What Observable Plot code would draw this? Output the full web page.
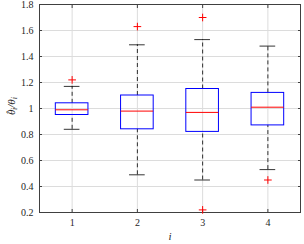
<!DOCTYPE html>
<html><head><meta charset="utf-8">
<script src="https://cdn.jsdelivr.net/npm/d3@7"></script>
<script src="https://cdn.jsdelivr.net/npm/@observablehq/plot@0.6"></script>
<style>body{margin:0;background:#fff} svg, svg text{font-family:"Liberation Serif", serif !important;}</style>
</head><body><div id="c"></div>
<script>
const groups = [1, 2, 3, 4];
const upperWhisker = [1.17, 1.49, 1.53, 1.48];
const q3 = [1.04, 1.10, 1.15, 1.12];
const median = [0.99, 0.98, 0.97, 1.01];
const q1 = [0.95, 0.84, 0.82, 0.87];
const lowerWhisker = [0.84, 0.49, 0.45, 0.53];
const outlierGroup = [1, 2, 3, 3, 4];
const outlierValue = [1.22, 1.63, 1.70, 0.22, 0.45];
const yTicks = [0.2, 0.4, 0.6, 0.8, 1, 1.2, 1.4, 1.6, 1.8];

const boxes = groups.map((g, k) => ({g, lo: lowerWhisker[k], q1: q1[k], med: median[k], q3: q3[k], hi: upperWhisker[k]}));
const outliers = outlierGroup.map((g, k) => ({g, v: outlierValue[k]}));
const half = 0.25, capHalf = 0.12;
const axisCol = "#404040";

const chart = Plot.plot({
  width: 304, height: 244,
  marginLeft: 39, marginRight: 4, marginTop: 4, marginBottom: 32,
  style: {fontFamily: "Liberation Serif", fontSize: "10px", color: "#262626", background: "#fff"},
  x: {domain: [0.5, 4.5], ticks: groups},
  y: {domain: [0.2, 1.8], ticks: yTicks},
  marks: [
    Plot.gridX(groups, {stroke: "#dcdcdc", strokeOpacity: 1}),
    Plot.gridY(yTicks, {stroke: "#dcdcdc", strokeOpacity: 1}),
    Plot.axisX(groups, {tickSize: 0, tickPadding: 6, label: null, tickFormat: d => String(d), fill: "#262626"}),
    Plot.axisY(yTicks, {tickSize: 0, tickPadding: 6, label: null, tickFormat: d => String(+d.toFixed(1)), fill: "#262626"}),
    Plot.axisX(groups, {anchor: "bottom", tickSize: -3, text: null, label: null, stroke: axisCol}),
    Plot.axisX(groups, {anchor: "top", tickSize: -3, text: null, label: null, stroke: axisCol}),
    Plot.axisY(yTicks, {anchor: "left", tickSize: -3, text: null, label: null, stroke: axisCol}),
    Plot.axisY(yTicks, {anchor: "right", tickSize: -3, text: null, label: null, stroke: axisCol}),
    Plot.frame({stroke: axisCol, strokeWidth: 1}),
    Plot.ruleX(boxes, {x: "g", y1: "q3", y2: "hi", stroke: "#000", strokeDasharray: "4,3", strokeWidth: 0.8}),
    Plot.ruleX(boxes, {x: "g", y1: "lo", y2: "q1", stroke: "#000", strokeDasharray: "4,3", strokeWidth: 0.8}),
    Plot.ruleY(boxes, {y: "hi", x1: d => d.g - capHalf, x2: d => d.g + capHalf, stroke: "#000", strokeWidth: 0.8}),
    Plot.ruleY(boxes, {y: "lo", x1: d => d.g - capHalf, x2: d => d.g + capHalf, stroke: "#000", strokeWidth: 0.8}),
    Plot.rect(boxes, {x1: d => d.g - half, x2: d => d.g + half, y1: "q1", y2: "q3", stroke: "#0000ff", fill: "none", strokeWidth: 1}),
    Plot.ruleY(boxes, {y: "med", x1: d => d.g - half, x2: d => d.g + half, stroke: "#ff0000", strokeWidth: 1}),
    Plot.dot(outliers, {x: "g", y: "v", symbol: "plus", r: 2.6, stroke: "#ff0000", strokeWidth: 1}),
    Plot.text(["i"], {frameAnchor: "bottom", dy: 27, fontStyle: "italic", fontSize: 11, fill: "#262626"})
  ]
});
// y-axis label: theta-hat_i / theta_i
const svg = d3.select(chart);
const t = svg.append("text")
  .attr("transform", "translate(15,106) rotate(-90)")
  .attr("text-anchor", "middle")
  .attr("font-style", "italic")
  .attr("font-size", 11)
  .attr("fill", "#262626");
t.append("tspan").text("\u03B8");
t.append("tspan").attr("dx", -5).attr("dy", -1).attr("font-size", 10).text("\u02C6");
t.append("tspan").attr("dx", 1.2).attr("dy", 3).attr("font-size", 8).text("i");
t.append("tspan").attr("dy", -2).text("/\u03B8");
t.append("tspan").attr("font-size", 8).attr("dy", 2).text("i");
document.getElementById("c").appendChild(chart);
</script></body></html>
